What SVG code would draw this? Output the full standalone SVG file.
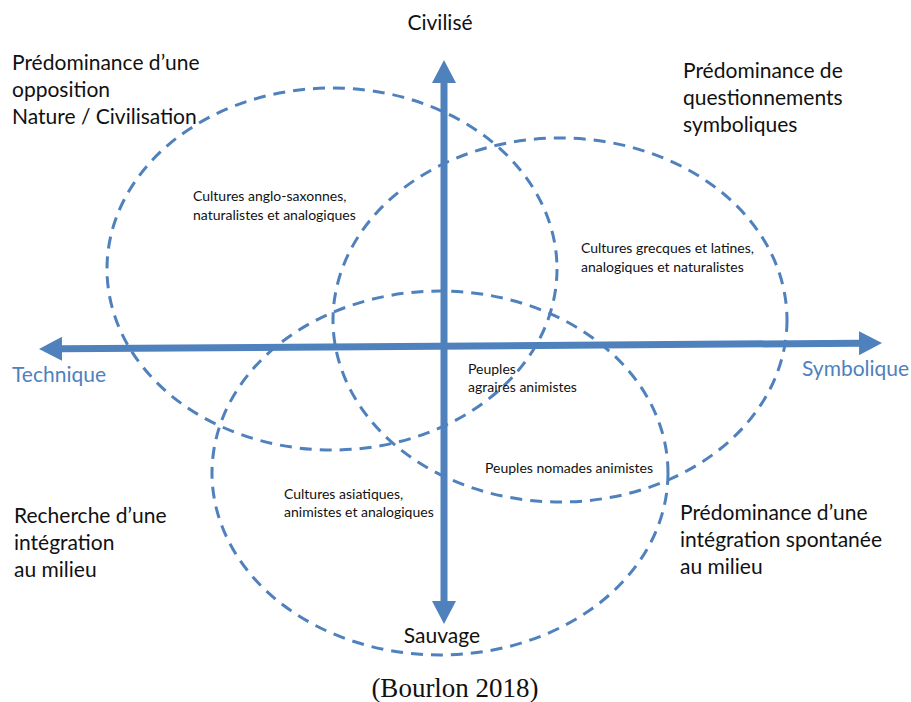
<svg xmlns="http://www.w3.org/2000/svg" width="911" height="702" viewBox="0 0 911 702">
<style>
.ell{fill:none;stroke:#4F81BD;stroke-width:3;stroke-dasharray:12 8}
.big{font-family:Lato,"Open Sans","Liberation Sans",sans-serif;font-size:21px;fill:#111}
.small{font-family:Lato,"Open Sans","Liberation Sans",sans-serif;font-size:14px;fill:#111}
.blue{font-family:Lato,"Open Sans","Liberation Sans",sans-serif;font-size:21px;fill:#4F81BD}
.axis{fill:none;stroke:#4F81BD;stroke-width:7;marker-start:url(#head);marker-end:url(#head)}
.cite{font-family:"Liberation Serif","Times New Roman",serif;font-size:27px;fill:#111}
</style>
<defs>
<marker id="head" markerUnits="userSpaceOnUse" markerWidth="23" markerHeight="24" refX="0" refY="12" orient="auto-start-reverse" viewBox="0 0 23 24">
<path d="M0,0 L23,12 L0,24 Z" fill="#4F81BD"/>
</marker>
</defs>
<rect width="911" height="702" fill="#fff"/>
<g id="ellipse-anglo">
<ellipse class="ell" cx="332" cy="269" rx="225" ry="181"/>
<text class="small" x="193" y="201">Cultures anglo-saxonnes,</text>
<text class="small" x="193" y="220">naturalistes et analogiques</text>
</g>
<g id="ellipse-grecques">
<ellipse class="ell" cx="560" cy="320" rx="227" ry="182"/>
<text class="small" x="581" y="253">Cultures grecques et latines,</text>
<text class="small" x="581" y="272">analogiques et naturalistes</text>
</g>
<g id="ellipse-asiatiques">
<ellipse class="ell" cx="440" cy="473" rx="228" ry="182"/>
<text class="small" x="284" y="499">Cultures asiatiques,</text>
<text class="small" x="284" y="517">animistes et analogiques</text>
</g>
<g id="connectors">
<path class="axis" d="M444,83 L444,601"/>
<path class="axis" d="M62,348.8 L859,343.2"/>
</g>
<g id="label-agraires">
<text class="small" x="468" y="374">Peuples</text>
<text class="small" x="468" y="392">agraires animistes</text>
</g>
<g id="label-nomades">
<text class="small" x="485" y="473">Peuples nomades animistes</text>
</g>
<g id="axis-civilise"><text class="big" x="440" y="30" text-anchor="middle">Civilisé</text></g>
<g id="axis-sauvage"><text class="big" x="442" y="643" text-anchor="middle">Sauvage</text></g>
<g id="axis-technique"><text class="blue" x="12" y="382">Technique</text></g>
<g id="axis-symbolique"><text class="blue" x="802" y="376">Symbolique</text></g>
<g id="quadrant-top-left">
<text class="big" x="12" y="70">Prédominance d’une</text>
<text class="big" x="12" y="97">opposition</text>
<text class="big" x="12" y="124">Nature / Civilisation</text>
</g>
<g id="quadrant-top-right">
<text class="big" x="683" y="78">Prédominance de</text>
<text class="big" x="683" y="105">questionnements</text>
<text class="big" x="683" y="132">symboliques</text>
</g>
<g id="quadrant-bottom-left">
<text class="big" x="14" y="523">Recherche d’une</text>
<text class="big" x="14" y="550">intégration</text>
<text class="big" x="14" y="577">au milieu</text>
</g>
<g id="quadrant-bottom-right">
<text class="big" x="680" y="520">Prédominance d’une</text>
<text class="big" x="680" y="547">intégration spontanée</text>
<text class="big" x="680" y="574">au milieu</text>
</g>
<g id="citation"><text class="cite" x="455" y="697" text-anchor="middle">(Bourlon 2018)</text></g>
</svg>
